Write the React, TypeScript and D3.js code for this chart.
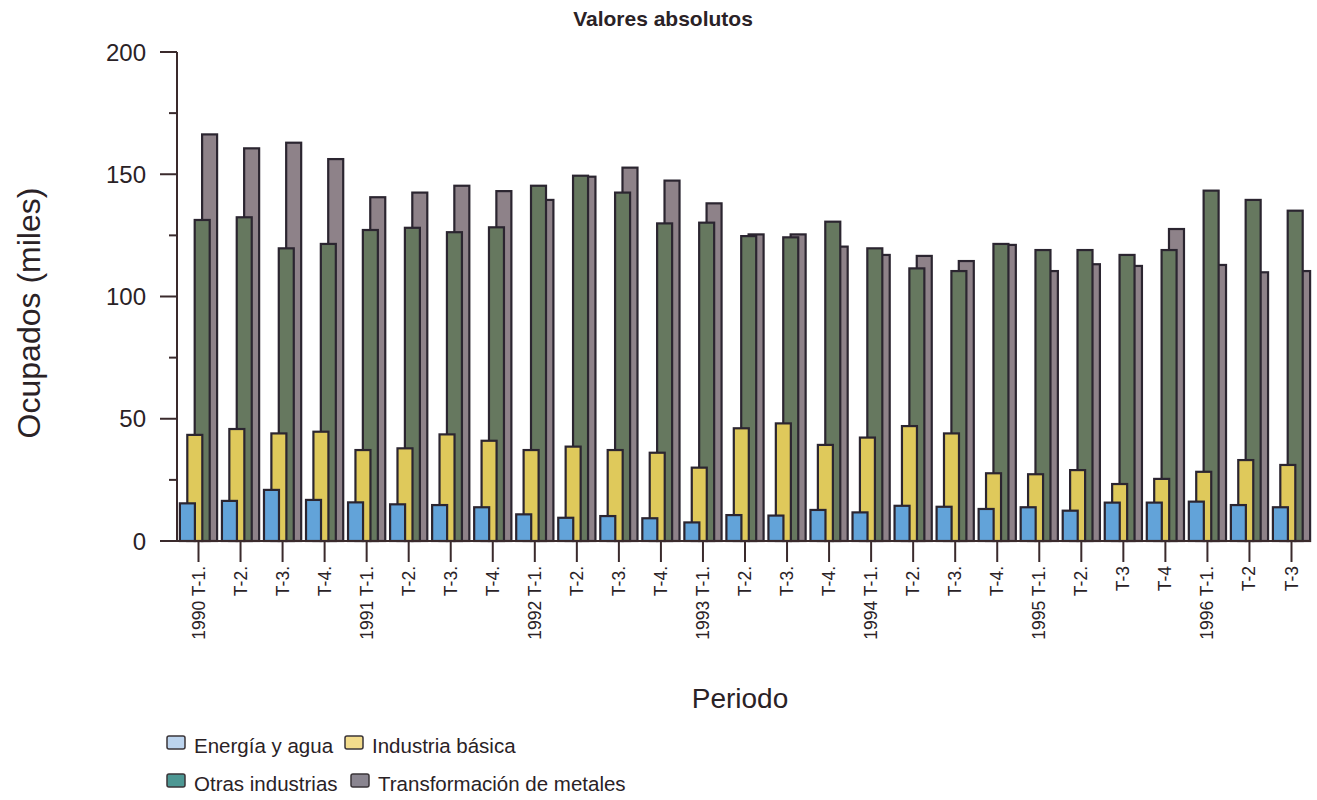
import React from "react";
import * as d3 from "d3";

const periods = [
  "1990 T-1.", "T-2.", "T-3.", "T-4.",
  "1991 T-1.", "T-2.", "T-3.", "T-4.",
  "1992 T-1.", "T-2.", "T-3.", "T-4.",
  "1993 T-1.", "T-2.", "T-3.", "T-4.",
  "1994 T-1.", "T-2.", "T-3.", "T-4.",
  "1995 T-1.", "T-2.", "T-3", "T-4",
  "1996 T-1.", "T-2", "T-3",
];

const energia = [15.4, 16.4, 20.9, 16.8, 15.8, 15.0, 14.7, 13.8, 10.9, 9.5, 10.2, 9.3, 7.6, 10.6, 10.4, 12.7, 11.7, 14.4, 14.0, 13.1, 13.8, 12.4, 15.7, 15.7, 16.1, 14.7, 13.8];
const industriaBasica = [43.4, 45.8, 44.0, 44.7, 37.2, 37.9, 43.6, 41.0, 37.2, 38.6, 37.2, 36.1, 30.0, 46.1, 48.1, 39.3, 42.3, 47.0, 44.0, 27.7, 27.3, 29.0, 23.3, 25.4, 28.3, 33.1, 31.1];
const otrasIndustrias = [131.3, 132.4, 119.7, 121.5, 127.2, 128.1, 126.3, 128.3, 145.3, 149.4, 142.5, 129.9, 130.2, 124.7, 124.2, 130.6, 119.7, 111.5, 110.4, 121.5, 119.0, 119.0, 117.0, 119.0, 143.3, 139.5, 135.1];
const transformacion = [166.3, 160.6, 162.9, 156.2, 140.6, 142.5, 145.3, 143.1, 139.5, 149.0, 152.7, 147.4, 138.1, 125.4, 125.4, 120.4, 117.0, 116.6, 114.5, 121.1, 110.4, 113.2, 112.5, 127.6, 112.9, 109.9, 110.4];

const seriesNames = ["Energía y agua", "Industria básica", "Otras industrias", "Transformación de metales"];
const yTicks = [0, 50, 100, 150, 200];
const yMinorTicks = [25, 75, 125, 175];

const barColors = ["#62a3d9", "#dfc95b", "#66785f", "#8e8289"];
const legendColors = ["#bcd4ee", "#f3dc8c", "#4d9793", "#8a8590"];

const FONT = "'Liberation Sans', Arial, Helvetica, sans-serif";
const INK = "#2a2226";
const AXIS = "#3a2a2c";

export default function App() {
  const series = [energia, industriaBasica, otrasIndustrias, transformacion];
  const x = d3.scalePoint<number>().domain(d3.range(periods.length)).range([198.5, 1291.5]);
  const y = d3.scaleLinear().domain([0, 200]).range([541, 52]);
  const barW = 15;
  const step = 7.4;
  const groupHalf = (barW + step * 3) / 2;
  const axisX = 177;

  // draw back-to-front: gray, green, yellow, blue
  const order = [3, 2, 1, 0];

  const legendItems = [
    { i: 0, sx: 167, ty: 753 },
    { i: 1, sx: 345, ty: 753 },
    { i: 2, sx: 167, ty: 791 },
    { i: 3, sx: 351, ty: 791 },
  ];

  return (
    <svg
      width={1317}
      height={800}
      style={{ position: "absolute", left: 0, top: 0, background: "#ffffff" }}
      fontFamily={FONT}
    >
      <rect x={0} y={0} width={1317} height={800} fill="#ffffff" />
      <text x={663} y={26} textAnchor="middle" fontSize={21} fontWeight="bold" fill={INK}>
        Valores absolutos
      </text>

      {/* bars */}
      {order.map((s) => (
        <g key={s}>
          {series[s].map((v, i) => {
            const x0 = (x(i) as number) - groupHalf + s * step;
            return (
              <rect
                key={i}
                x={x0}
                y={y(v)}
                width={barW}
                height={y(0) - y(v)}
                fill={barColors[s]}
                stroke="#2b2530"
                strokeWidth={2.2}
              />
            );
          })}
        </g>
      ))}

      {/* y axis */}
      <line x1={axisX} x2={axisX} y1={y(200)} y2={y(0)} stroke={AXIS} strokeWidth={2} />
      {yTicks.map((t) => (
        <g key={t}>
          <line x1={160} x2={axisX} y1={y(t)} y2={y(t)} stroke={AXIS} strokeWidth={2} />
          <text x={146} y={y(t)} dy="0.36em" textAnchor="end" fontSize={24} fill={INK}>
            {t}
          </text>
        </g>
      ))}
      {yMinorTicks.map((t) => (
        <line key={t} x1={169} x2={axisX} y1={y(t)} y2={y(t)} stroke={AXIS} strokeWidth={2} />
      ))}
      <text
        transform={`translate(40, 313) rotate(-90)`}
        textAnchor="middle"
        fontSize={32}
        fill={INK}
      >
        Ocupados (miles)
      </text>

      {/* x axis */}
      <line x1={axisX} x2={1311} y1={y(0)} y2={y(0)} stroke={AXIS} strokeWidth={2} />
      {periods.map((p, i) => (
        <g key={i} transform={`translate(${x(i)},0)`}>
          <line x1={0} x2={0} y1={y(0)} y2={562} stroke={AXIS} strokeWidth={2} />
          <text
            transform={`translate(6, 566) rotate(-90)`}
            textAnchor="end"
            fontSize={17.5}
            fill={INK}
          >
            {p}
          </text>
        </g>
      ))}
      <text x={740} y={708} textAnchor="middle" fontSize={28} fill={INK}>
        Periodo
      </text>

      {/* legend */}
      {legendItems.map((it) => (
        <g key={it.i}>
          <rect
            x={it.sx}
            y={it.ty - 17}
            width={18}
            height={13}
            rx={2}
            fill={legendColors[it.i]}
            stroke="#3a3438"
            strokeWidth={1.5}
          />
          <text x={it.sx + 27} y={it.ty} fontSize={20.5} fill={INK}>
            {seriesNames[it.i]}
          </text>
        </g>
      ))}
    </svg>
  );
}
